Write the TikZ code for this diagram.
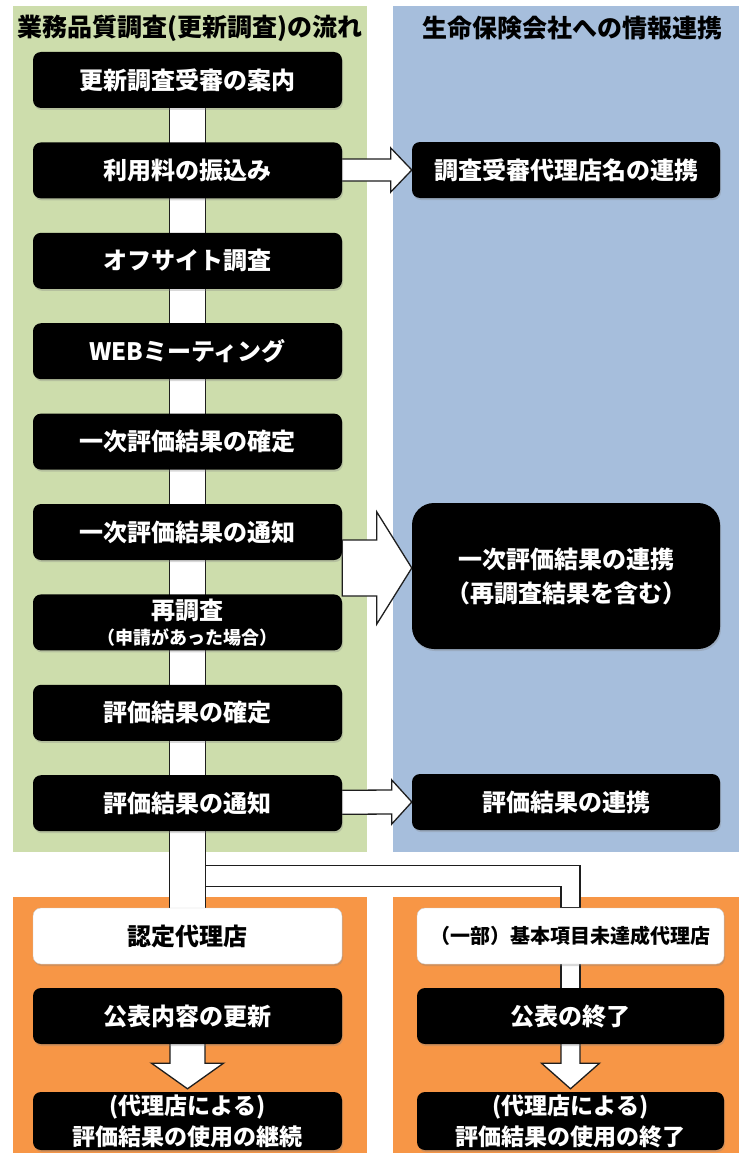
\documentclass[tikz,border=0pt]{standalone}
\usepackage{fontspec}
\newfontfamily\jpfont{Noto Sans CJK JP}
\usetikzlibrary{positioning,calc,shadows}
\definecolor{panelgreen}{RGB}{205,221,172}
\definecolor{panelblue}{RGB}{166,190,220}
\definecolor{panelorange}{RGB}{247,150,70}
\definecolor{linkgray}{RGB}{30,30,30}
\pgfdeclarelayer{back}
\pgfdeclarelayer{mid}
\pgfsetlayers{back,mid,main}
\tikzstyle{kbox}=[rectangle, rounded corners=8pt, fill=black, text=white, minimum width=309pt, minimum height=56pt, inner sep=1pt, align=center, font=\jpfont\bfseries\fontsize{24}{28}\selectfont, drop shadow={shadow xshift=1pt, shadow yshift=-2pt, opacity=0.3}]
\tikzstyle{wbox}=[kbox, fill=white, text=black, draw=gray!40]
\tikzstyle{ttl}=[font=\jpfont\bfseries\fontsize{25}{30}\selectfont, text=black, inner sep=0pt]
\tikzstyle{link}=[fill=white, draw=linkgray, line width=1.3pt, line join=miter]

\begin{document}
\begin{tikzpicture}[x=1pt, y=-1pt]
	\useasboundingbox (0,0) rectangle (739,1153);
	% panels
	\begin{pgfonlayer}{back}
	\fill[panelgreen] (13,6) rectangle (367,852);
	\fill[panelblue] (393,6) rectangle (739,852);
	\fill[panelorange] (13,897) rectangle (367,1153);
	\fill[panelorange] (393,897) rectangle (739,1153);
	\end{pgfonlayer}

	\node[ttl] (t1) at (190,28) {業務品質調査(更新調査)の流れ};
	\node[ttl] (t2) at (572,28) {生命保険会社への情報連携};

	% flow
	\node[kbox] (n1) at (187.5,80) {更新調査受審の案内};
	\node[kbox] (n2) [below = 34pt of n1] {利用料の振込み};
	\node[kbox] (n3) [below = 34pt of n2] {オフサイト調査};
	\node[kbox] (n4) [below = 34pt of n3] {WEBミーティング};
	\node[kbox] (n5) [below = 34pt of n4] {一次評価結果の確定};
	\node[kbox] (n6) [below = 34pt of n5] {一次評価結果の通知};
	\node[kbox] (n7) [below = 34pt of n6] {再調査\\[-3pt]{\fontsize{18}{21}\selectfont （申請があった場合）}};
	\node[kbox] (n8) [below = 34pt of n7] {評価結果の確定};
	\node[kbox] (n9) [below = 34pt of n8] {評価結果の通知};

	% life insurers
	\node[kbox, minimum width=308pt] (r1) at (566,170) {調査受審代理店名の連携};
	\node[kbox, minimum width=308pt, minimum height=146pt, rounded corners=22pt] (r2) at (566,576) {一次評価結果の連携\\[6pt]（再調査結果を含む）};
	\node[kbox, minimum width=308pt] (r3) at (566,802) {評価結果の連携};

	% agencies
	\node[wbox] (w1) at (187.5,936) {認定代理店};
	\node[kbox] (k1) at (187.5,1016) {公表内容の更新};
	\node[kbox, minimum height=58pt, font=\jpfont\bfseries\fontsize{23}{31}\selectfont] (f1) at (187.5,1121) {(代理店による)\\評価結果の使用の継続};
	\node[wbox, minimum width=307pt, font=\jpfont\bfseries\fontsize{20}{24}\selectfont] (w2) at (570.5,936) {（一部）基本項目未達成代理店};
	\node[kbox, minimum width=307pt] (k2) at (570.5,1016) {公表の終了};
	\node[kbox, minimum width=307pt, minimum height=58pt, font=\jpfont\bfseries\fontsize{23}{31}\selectfont] (f2) at (570.5,1121) {(代理店による)\\評価結果の使用の終了};

	\coordinate (a2) at ($(r2.west)+(0,-8)$);

	\begin{pgfonlayer}{mid}
	\path[link] ($(n1.center)+(-18,0)$) rectangle ($(w1.center)+(18,0)$);
	\path[link] ($(n9.south)+(18,34)$) -| ($(w2.north)+(9.5,0)$) -- ($(w2.north)+(-9.5,0)$) |- ($(n9.south)+(18,55)$) -- cycle;
	\path[link] ($(w2.center)+(-9.5,0)$) rectangle ($(k2.center)+(9.5,0)$);
	% side arrows
	\path[link] ($(n2.center)+(0,-11)$) -- ($(r1.west)+(-21,-11)$) -- ($(r1.west)+(-21,-22)$) -- (r1.west) -- ($(r1.west)+(-21,22)$) -- ($(r1.west)+(-21,11)$) -- ($(n2.center)+(0,11)$) -- cycle;
	\path[link] ($(n6.east |- a2)+(0,-28)$) -- ($(a2)+(-35,-28)$) -- ($(a2)+(-35,-56)$) -- (a2) -- ($(a2)+(-35,56)$) -- ($(a2)+(-35,28)$) -- ($(n6.east |- a2)+(0,28)$) -- cycle;
	\path[link] ($(n9.center)+(0,-12)$) -- ($(r3.west)+(-20,-12)$) -- ($(r3.west)+(-20,-22)$) -- (r3.west) -- ($(r3.west)+(-20,22)$) -- ($(r3.west)+(-20,12)$) -- ($(n9.center)+(0,12)$) -- cycle;
	% down arrows
	\path[link] ($(k1.center)+(-17.5,0)$) -- ($(k1.south)+(-17.5,19)$) -- ++(-18.5,0) -- ($(f1.north)+(0,-3)$) -- ($(k1.south)+(36,19)$) -- ++(-18.5,0) -- ($(k1.center)+(17.5,0)$) -- cycle;
	\path[link] ($(k2.center)+(-9.5,0)$) -- ($(k2.south)+(-9.5,19)$) -- ++(-19.5,0) -- ($(f2.north)+(0,-3)$) -- ($(k2.south)+(29,19)$) -- ++(-19.5,0) -- ($(k2.center)+(9.5,0)$) -- cycle;
	\end{pgfonlayer}
\end{tikzpicture}
\end{document}
